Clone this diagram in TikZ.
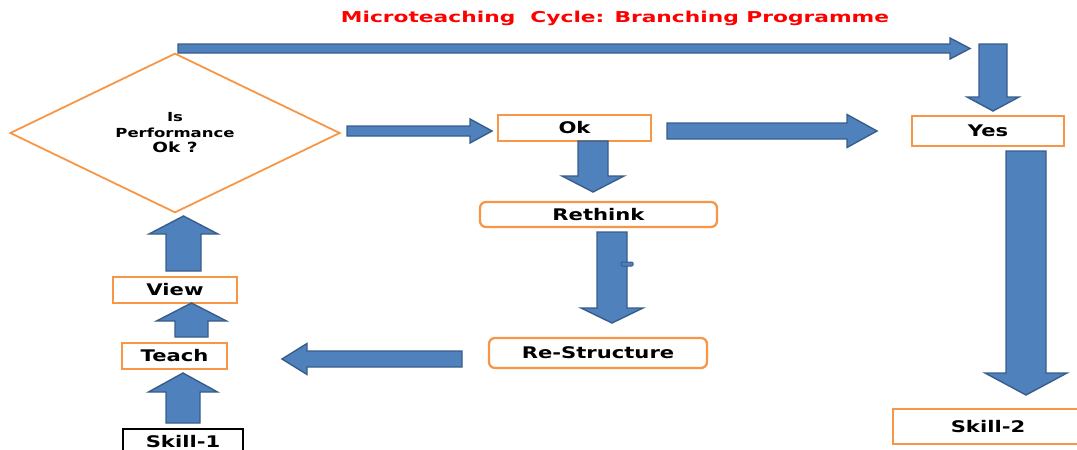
\documentclass[tikz,border=0pt]{standalone}
\usepackage{fontspec}
\usetikzlibrary{shapes.geometric}
\newfontfamily\labfont{DejaVu Sans}[FakeStretch=1.32]
\newfontfamily\titlefont{DejaVu Sans}[FakeStretch=1.45]
\definecolor{arrfill}{HTML}{4F81BD}
\definecolor{arrline}{HTML}{385D8A}
\definecolor{boxline}{HTML}{F79646}
% block arrow: tail x, tail y, angle, length, shaft half, head half, head length
\newcommand\blkarrow[7]{%
  \begin{scope}[shift={(#1,#2)},rotate=#3]
    \filldraw[blockarrow] (0,-#5) -- (#4-#7,-#5) -- (#4-#7,-#6) -- (#4,0)
      -- (#4-#7,#6) -- (#4-#7,#5) -- (0,#5) -- cycle;
  \end{scope}}
\tikzset{
  blockarrow/.style={fill=arrfill,draw=arrline,line width=1.4pt,line join=miter},
  labelbox/.style={draw=boxline,line width=2.3pt,fill=white,inner sep=0pt,
    font=\labfont\bfseries\fontsize{16}{19}\selectfont},
  roundbox/.style={labelbox,rounded corners=6pt},
}
\begin{document}
\begin{tikzpicture}[x=1pt,y=-1pt]
\useasboundingbox (0,0) rectangle (1077,450);
\clip (0,0) rectangle (1077,450);
% title
\node[text=red,font=\titlefont\bfseries\fontsize{15}{18}\selectfont] (title) at (615,18)
  {Microteaching\ \ Cycle: Branching Programme};
% diamond
\node[diamond,draw=boxline,line width=1.8pt,minimum width=330pt,minimum height=152pt,
  inner sep=0pt,align=center,font=\labfont\bfseries\fontsize{12.5}{15.5}\selectfont] (dec) at (175,133)
  {Is\\Performance\\{\fontsize{14}{17}\selectfont Ok ?}};
% boxes
\node[labelbox,minimum width=153pt,minimum height=26pt] (ok) at (574.5,128) {Ok};
\node[labelbox,minimum width=152pt,minimum height=30pt] (yes) at (988,131) {Yes};
\node[roundbox,minimum width=237pt,minimum height=25pt] (rethink) at (598.5,214.5) {Rethink};
\node[roundbox,minimum width=218pt,minimum height=30pt] (restr) at (598,353) {Re-Structure};
\node[labelbox,minimum width=124pt,minimum height=26pt] (view) at (175,290) {View};
\node[labelbox,minimum width=105pt,minimum height=26pt] (teach) at (174.5,356) {Teach};
\node[labelbox,draw=black,minimum width=120pt,minimum height=26pt] (skill1) at (183,442) {Skill-1};
\node[labelbox,minimum width=190pt,minimum height=35pt] (skill2) at (988,426.5) {Skill-2};
% block arrows
\blkarrow{178}{48.5}{0}{792}{4.5}{10.5}{20}
\blkarrow{993}{44}{-90}{67}{14}{26}{14}
\blkarrow{347}{131}{0}{145}{5}{12}{22}
\blkarrow{667}{131}{0}{210}{8}{16.5}{30}
\blkarrow{1026}{151}{-90}{244}{20}{41}{22}
\blkarrow{593}{141}{-90}{51}{15}{31}{16}
\blkarrow{612}{232}{-90}{91}{15}{31}{15}
\filldraw[blockarrow,line width=1pt,rounded corners=1pt] (621,262) rectangle (633,266);
\blkarrow{462}{359}{180}{180}{8}{15.5}{25}
\blkarrow{183}{423}{90}{50}{17}{34.5}{19}
\blkarrow{191.5}{337}{90}{34}{16.5}{35}{18}
\blkarrow{183.5}{271}{90}{55}{17.5}{34.5}{18}
\end{tikzpicture}
\end{document}
